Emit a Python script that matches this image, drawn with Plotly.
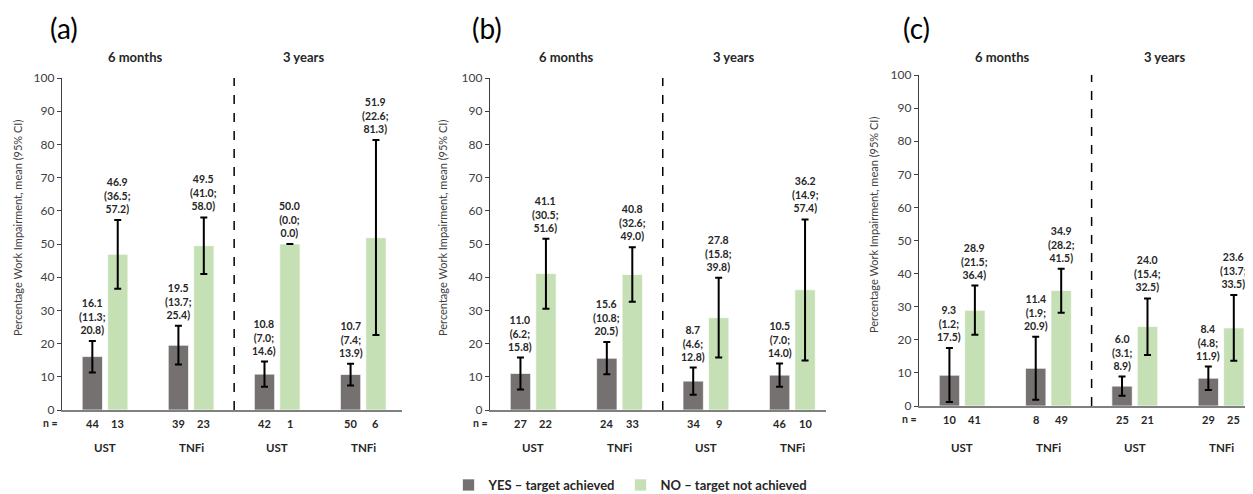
import plotly.graph_objects as go

# ---------------- data ----------------
panels = ["(a)", "(b)", "(c)"]
drugs = ["UST", "TNFi", "UST", "TNFi"]
periods = ["6 months", "3 years"]

a_yes_mean = [16.1, 19.5, 10.8, 10.7]
a_yes_lo = [11.3, 13.7, 7.0, 7.4]
a_yes_hi = [20.8, 25.4, 14.6, 13.9]
a_yes_n = [44, 39, 42, 50]
a_no_mean = [46.9, 49.5, 50.0, 51.9]
a_no_lo = [36.5, 41.0, 0.0, 22.6]
a_no_hi = [57.2, 58.0, 0.0, 81.3]
a_no_n = [13, 23, 1, 6]

b_yes_mean = [11.0, 15.6, 8.7, 10.5]
b_yes_lo = [6.2, 10.8, 4.6, 7.0]
b_yes_hi = [15.8, 20.5, 12.8, 14.0]
b_yes_n = [27, 24, 34, 46]
b_no_mean = [41.1, 40.8, 27.8, 36.2]
b_no_lo = [30.5, 32.6, 15.8, 14.9]
b_no_hi = [51.6, 49.0, 39.8, 57.4]
b_no_n = [22, 33, 9, 10]

c_yes_mean = [9.3, 11.4, 6.0, 8.4]
c_yes_lo = [1.2, 1.9, 3.1, 4.8]
c_yes_hi = [17.5, 20.9, 8.9, 11.9]
c_yes_n = [10, 8, 25, 29]
c_no_mean = [28.9, 34.9, 24.0, 23.6]
c_no_lo = [21.5, 28.2, 15.4, 13.7]
c_no_hi = [36.4, 41.5, 32.5, 33.5]
c_no_n = [41, 49, 21, 25]

yes_name = "YES \u2013 target achieved"
no_name = "NO \u2013 target not achieved"

data = [
    dict(yes=(a_yes_mean, a_yes_lo, a_yes_hi, a_yes_n), no=(a_no_mean, a_no_lo, a_no_hi, a_no_n)),
    dict(yes=(b_yes_mean, b_yes_lo, b_yes_hi, b_yes_n), no=(b_no_mean, b_no_lo, b_no_hi, b_no_n)),
    dict(yes=(c_yes_mean, c_yes_lo, c_yes_hi, c_yes_n), no=(c_no_mean, c_no_lo, c_no_hi, c_no_n)),
]

# ---------------- layout geometry (page pixels of a 1253x494 window) ----------------
PAGE_W, PAGE_H = 1253, 494
OFF = 8  # default body margin of the html page
W, H = PAGE_W - OFF, PAGE_H - OFF
FONT = "Lato"
YES_COLOR = "#767171"
NO_COLOR = "#C5E0B4"
TXT = "#262626"
BARGAP = 0.41
BARGROUPGAP = 0.2


def px(x):
    return (x - OFF) / W


def py(y):
    return 1 - (y - OFF) / H


x_dom_px = [(62, 402), (490, 826), (919, 1253)]
x_rng = [(-0.5, 3.45), (-0.5, 3.39), (-0.5, 3.37)]
y_dom_px = [(78, 410), (78, 410), (75, 406)]
ytitle_px = [(18, 228), (443, 228), (873, 225)]
letter_px = [(64, 28), (487, 28), (916, 28)]
header_px = [((135, 57), (303, 57)), ((566, 57), (733, 57)), ((1002, 57), (1164, 57))]
nlabel_px = [(50, 423), (480, 423), (909, 419)]
group_y_px = 447
legend_y_px = 485


def ann(**kw):
    kw.setdefault("showarrow", False)
    kw.setdefault("xanchor", "center")
    kw.setdefault("yanchor", "middle")
    fig.add_annotation(**kw)


fig = go.Figure()
xs = list(range(len(drugs)))
half = (1 - BARGAP) / 4.0

for p in range(3):
    sfx = "" if p == 0 else str(p + 1)
    xa, ya = "x" + sfx, "y" + sfx
    for key, name, color, sign in (("yes", yes_name, YES_COLOR, -1), ("no", no_name, NO_COLOR, 1)):
        mean, lo, hi, n = data[p][key]
        valid = [(l <= m <= h) for m, l, h in zip(mean, lo, hi)]
        plus = [round(h - m, 2) if v else 0 for m, h, v in zip(mean, hi, valid)]
        minus = [round(m - l, 2) if v else 0 for m, l, v in zip(mean, lo, valid)]
        fig.add_trace(go.Bar(
            x=xs, y=mean, name=f"<b>{name}</b>", xaxis=xa, yaxis=ya,
            marker=dict(color=color, line=dict(color="rgba(255,255,255,0.7)", width=1)),
            error_y=dict(type="data", symmetric=False, array=plus, arrayminus=minus,
                         color="black", thickness=2, width=3.5),
            showlegend=(p == 0), legendgroup=key, hoverinfo="skip",
        ))
        for i in xs:
            top = max(hi[i], mean[i]) if valid[i] else mean[i]
            ann(x=i + sign * half, y=top, xref=xa, yref=ya, yanchor="bottom", yshift=3,
                text=f"<b>{mean[i]:.1f}<br>({lo[i]:.1f};<br>{hi[i]:.1f})</b>",
                font=dict(family=FONT, size=10.5, color=TXT), align="center")
            ann(x=i + sign * half, y=py(nlabel_px[p][1]), xref=xa, yref="paper",
                text=f"<b>{n[i]}</b>", font=dict(family=FONT, size=11, color=TXT))
    for i in xs:
        ann(x=i, y=py(group_y_px), xref=xa, yref="paper", text=f"<b>{drugs[i]}</b>",
            font=dict(family=FONT, size=11.5, color=TXT))
    ann(x=px(nlabel_px[p][0]), y=py(nlabel_px[p][1]), xref="paper", yref="paper",
        text="<b>n =</b>", font=dict(family=FONT, size=10.5, color=TXT))
    for (hx, hy), lab in zip(header_px[p], periods):
        ann(x=px(hx), y=py(hy), xref="paper", yref="paper", text=f"<b>{lab}</b>",
            font=dict(family=FONT, size=13, color=TXT))
    ann(x=px(letter_px[p][0]), y=py(letter_px[p][1]), xref="paper", yref="paper",
        text=panels[p], font=dict(family=FONT, size=28, color="black"))
    ann(x=px(ytitle_px[p][0]), y=py(ytitle_px[p][1]), xref="paper", yref="paper",
        text="Percentage Work Impairment, mean (95% CI)", textangle=-90,
        font=dict(family=FONT, size=11, color="#404040"))
    fig.add_shape(type="line", xref=xa, yref=ya, x0=1.5, x1=1.5, y0=0, y1=100,
                  line=dict(color="black", width=1.5, dash="dash"))

    d0, d1 = x_dom_px[p]
    yt, yb = y_dom_px[p]
    fig.layout["xaxis" + sfx] = dict(
        domain=[px(d0), min(px(d1), 1.0)], range=list(x_rng[p]), anchor=ya,
        showticklabels=False, ticks="", showgrid=False, zeroline=False,
        showline=True, linecolor="#808080", linewidth=1.5, fixedrange=True,
    )
    fig.layout["yaxis" + sfx] = dict(
        domain=[py(yb), py(yt)], range=[0, 100], dtick=10, anchor=xa,
        showgrid=False, zeroline=False, showline=True, linecolor="#404040", linewidth=1.2,
        ticks="outside", ticklen=4, tickcolor="#404040",
        tickfont=dict(family=FONT, size=12, color="#404040"), fixedrange=True,
    )

fig.update_layout(
    width=W, height=H, margin=dict(l=0, r=0, t=0, b=0, autoexpand=False),
    paper_bgcolor="white", plot_bgcolor="white",
    barmode="group", bargap=BARGAP, bargroupgap=BARGROUPGAP,
    font=dict(family=FONT, color=TXT),
    legend=dict(orientation="h", x=0.5, xanchor="center", y=py(legend_y_px), yanchor="middle",
                font=dict(family=FONT, size=13, color=TXT), itemwidth=30,
                traceorder="normal"),
)

fig.write_html("out.html")
